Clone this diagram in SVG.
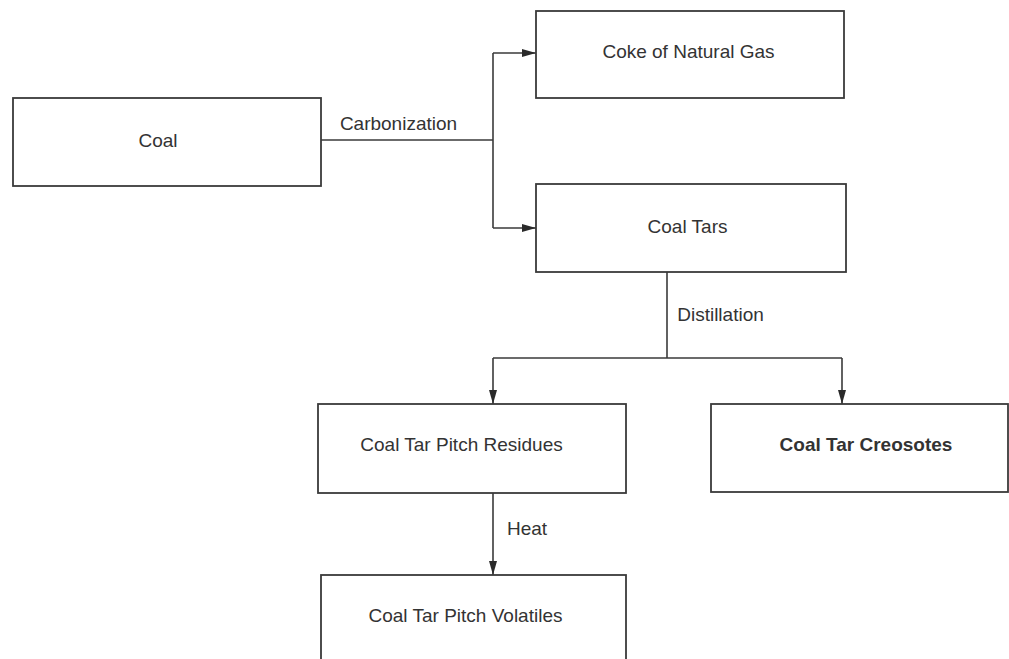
<svg xmlns="http://www.w3.org/2000/svg" width="1009" height="659" viewBox="0 0 1009 659">
<style>
.box{fill:#fff;stroke:#3a3a3a;stroke-width:1.8}
.t{font-family:"Liberation Sans",Arial,sans-serif;font-size:19px;fill:#333;text-anchor:middle}
.b{font-weight:bold}
.c{fill:none;stroke:#3a3a3a;stroke-width:1.6}
</style>
<defs>
<marker id="ah" markerWidth="14" markerHeight="8" refX="14" refY="4" orient="auto" markerUnits="userSpaceOnUse">
<path d="M0,0 L14,4 L0,8 Z" fill="#2a2a2a"/>
</marker>
</defs>
<rect width="1009" height="659" fill="#fff"/>
<g id="connectors">
<path class="c" d="M321,140 H493"/>
<path class="c" d="M493,53 V228"/>
<path class="c" d="M493,53 H536" marker-end="url(#ah)"/>
<path class="c" d="M493,228 H536" marker-end="url(#ah)"/>
<path class="c" d="M667,272 V358"/>
<path class="c" d="M493,358 H842"/>
<path class="c" d="M493,358 V404" marker-end="url(#ah)"/>
<path class="c" d="M842,358 V404" marker-end="url(#ah)"/>
<path class="c" d="M493,493 V575" marker-end="url(#ah)"/>
<text class="t" x="398.5" y="130">Carbonization</text>
<text class="t" x="720.5" y="321">Distillation</text>
<text class="t" x="527" y="535">Heat</text>
</g>
<g id="coal">
<rect class="box" x="13" y="98" width="308" height="88"/>
<text class="t" x="158" y="147">Coal</text>
</g>
<g id="coke">
<rect class="box" x="536" y="11" width="308" height="87"/>
<text class="t" x="688.5" y="58">Coke of Natural Gas</text>
</g>
<g id="coaltars">
<rect class="box" x="536" y="184" width="310" height="88"/>
<text class="t" x="687.5" y="233">Coal Tars</text>
</g>
<g id="residues">
<rect class="box" x="318" y="404" width="308" height="89"/>
<text class="t" x="461.5" y="451">Coal Tar Pitch Residues</text>
</g>
<g id="creosotes">
<rect class="box" x="711" y="404" width="297" height="88"/>
<text class="t b" x="866" y="451">Coal Tar Creosotes</text>
</g>
<g id="volatiles">
<rect class="box" x="321" y="575" width="305" height="100"/>
<text class="t" x="465.5" y="622">Coal Tar Pitch Volatiles</text>
</g>
</svg>
